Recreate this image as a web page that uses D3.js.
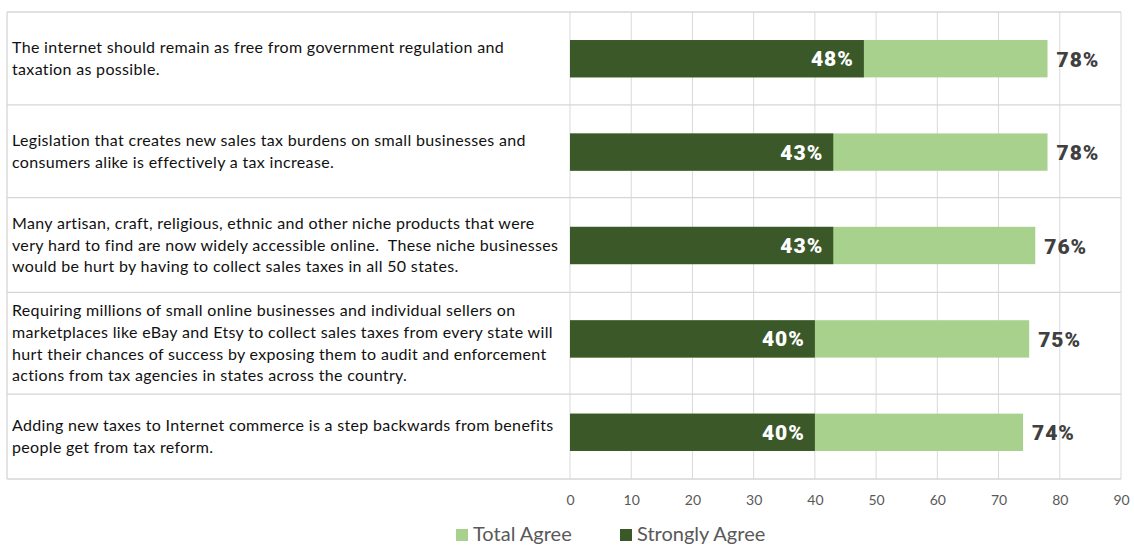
<!DOCTYPE html>
<html>
<head>
<meta charset="utf-8">
<script src="https://cdn.jsdelivr.net/npm/d3@7"></script>
<style>
  html, body { margin: 0; padding: 0; background: #fff; }
  svg { display: block; }
</style>
</head>
<body>
<div id="chart"></div>
<script>
// ---- data ----
const statements = [
  "The internet should remain as free from government regulation and\ntaxation as possible.",
  "Legislation that creates new sales tax burdens on small businesses and\nconsumers alike is effectively a tax increase.",
  "Many artisan, craft, religious, ethnic and other niche products that were\nvery hard to find are now widely accessible online.  These niche businesses\nwould be hurt by having to collect sales taxes in all 50 states.",
  "Requiring millions of small online businesses and individual sellers on\nmarketplaces like eBay and Etsy to collect sales taxes from every state will\nhurt their chances of success by exposing them to audit and enforcement\nactions from tax agencies in states across the country.",
  "Adding new taxes to Internet commerce is a step backwards from benefits\npeople get from tax reform."
];
const totalAgree = [78, 78, 76, 75, 74];
const stronglyAgree = [48, 43, 43, 40, 40];
const tickValues = [0, 10, 20, 30, 40, 50, 60, 70, 80, 90];
const seriesNames = ["Total Agree", "Strongly Agree"];

// ---- layout ----
const W = 1134, H = 546;
const tableLeft = 7, plotTop = 12, plotBottom = 479;
const rowWeights = [93, 93, 95, 102, 85]; // table row proportions
const colors = { total: "#a9d18e", strong: "#3b5829", grid: "#d9d9d9", table: "#d6d6d6" };

const svg = d3.select("#chart").append("svg").attr("width", W).attr("height", H);

const x = d3.scaleLinear().domain([0, 90]).range([570, 1121]);
const y = d3.scaleBand().domain(d3.range(statements.length))
  .range([plotTop, plotBottom]).paddingInner(0.6).paddingOuter(0.3);

// table row edges
const cum = [0, ...d3.cumsum(rowWeights)];
const rowScale = d3.scaleLinear().domain([0, d3.sum(rowWeights)]).range([plotTop, plotBottom]);
const edges = cum.map(rowScale);

// vertical gridlines
svg.append("g").selectAll("line").data(tickValues).join("line")
  .attr("x1", d => x(d)).attr("x2", d => x(d))
  .attr("y1", plotTop).attr("y2", plotBottom)
  .attr("stroke", colors.grid).attr("stroke-width", 1);

// table horizontal lines
svg.append("g").selectAll("line").data(edges).join("line")
  .attr("x1", tableLeft).attr("x2", x(90))
  .attr("y1", d => d).attr("y2", d => d)
  .attr("stroke", colors.table).attr("stroke-width", 1.3);
// left border
svg.append("line").attr("x1", tableLeft).attr("x2", tableLeft)
  .attr("y1", plotTop).attr("y2", plotBottom)
  .attr("stroke", colors.table).attr("stroke-width", 1.3);

// statement text
const labelG = svg.append("g");
statements.forEach((s, i) => {
  const lines = s.split("\n");
  const lh = 21.6;
  const cy = (edges[i] + edges[i + 1]) / 2;
  const t = labelG.append("text")
    .attr("font-family", "Lato, 'Open Sans', sans-serif")
    .attr("font-size", 16)
    .attr("letter-spacing", 0.33)
    .attr("fill", "#111");
  lines.forEach((ln, k) => {
    t.append("tspan").attr("x", 12)
      .attr("y", cy + (k - (lines.length - 1) / 2) * lh + 5.6)
      .attr("xml:space", "preserve")
      .text(ln);
  });
});

// bars
const bars = svg.append("g");
bars.selectAll("rect.total").data(totalAgree).join("rect").attr("class", "total")
  .attr("x", x(0)).attr("y", (d, i) => y(i))
  .attr("width", d => x(d) - x(0)).attr("height", y.bandwidth())
  .attr("fill", colors.total);
bars.selectAll("rect.strong").data(stronglyAgree).join("rect").attr("class", "strong")
  .attr("x", x(0)).attr("y", (d, i) => y(i))
  .attr("width", d => x(d) - x(0)).attr("height", y.bandwidth())
  .attr("fill", colors.strong);

// value labels
const valFont = "Roboto, 'DejaVu Sans', sans-serif";
bars.selectAll("text.strong").data(stronglyAgree).join("text").attr("class", "strong")
  .attr("x", d => x(d) - 10).attr("y", (d, i) => y(i) + y.bandwidth() / 2 + 7.5)
  .attr("text-anchor", "end").attr("font-family", valFont)
  .attr("font-weight", 900).attr("font-size", 21).attr("letter-spacing", 1)
  .attr("fill", "#fff").text(d => d + "%");
bars.selectAll("text.total").data(totalAgree).join("text").attr("class", "total")
  .attr("x", d => x(d) + 9).attr("y", (d, i) => y(i) + y.bandwidth() / 2 + 8)
  .attr("text-anchor", "start").attr("font-family", valFont)
  .attr("font-weight", 900).attr("font-size", 21).attr("letter-spacing", 1)
  .attr("fill", "#404040").text(d => d + "%");

// x axis
const axis = svg.append("g").attr("transform", `translate(0,${plotBottom})`)
  .call(d3.axisBottom(x).tickValues(tickValues).tickSize(0).tickPadding(16));
axis.select(".domain").remove();
axis.selectAll("text").attr("font-family", "Lato, 'Open Sans', sans-serif")
  .attr("font-size", 14).attr("fill", "#595959");

// legend
const legend = svg.append("g");
const legendItems = [
  { name: seriesNames[0], color: colors.total, x: 456 },
  { name: seriesNames[1], color: colors.strong, x: 620 }
];
legendItems.forEach(it => {
  legend.append("rect").attr("x", it.x).attr("y", 529).attr("width", 12).attr("height", 12)
    .attr("fill", it.color);
  legend.append("text").attr("x", it.x + 17).attr("y", 541)
    .attr("font-family", "Lato, 'Open Sans', sans-serif").attr("font-size", 20)
    .attr("fill", "#595959").text(it.name);
});
</script>
</body>
</html>
